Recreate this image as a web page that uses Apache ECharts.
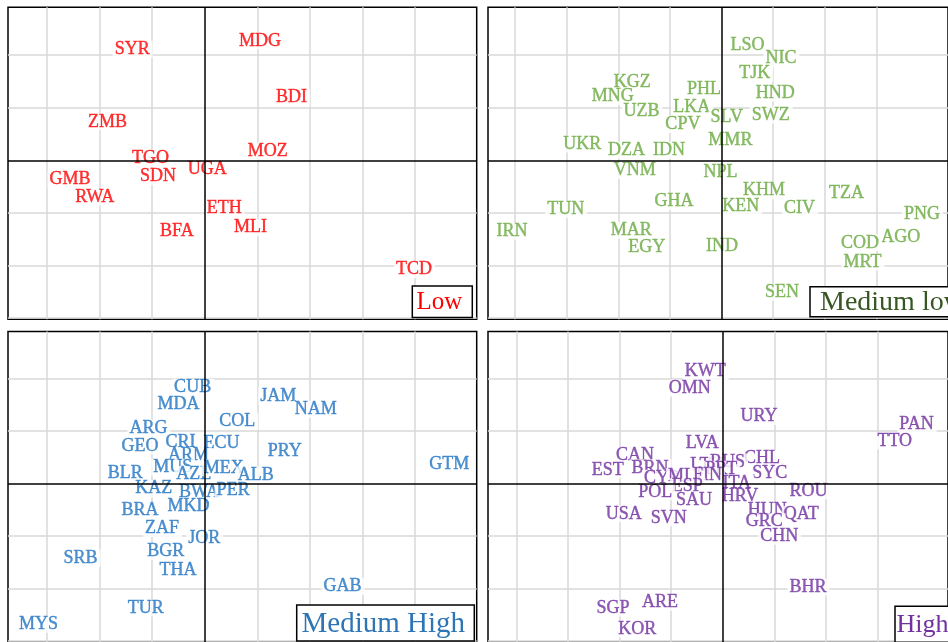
<!DOCTYPE html>
<html>
<head>
<meta charset="utf-8">
<script src="https://cdn.jsdelivr.net/npm/echarts@6/dist/echarts.min.js"></script>
<style>
  html, body { margin: 0; padding: 0; background: #fff; }
  #chart { width: 948px; height: 642px; }
</style>
</head>
<body>
<div id="chart"></div>
<script>
// ---- data (grid units; centre cross at 0,0) ----
const lowNames = ['SYR','MDG','BDI','ZMB','TGO','MOZ','UGA','GMB','SDN','RWA','ETH','BFA','MLI','TCD'];
const lowX = [-1.37, 1.06, 1.66, -1.84, -1.02, 1.21, 0.06, -2.55, -0.88, -2.08, 0.38, -0.52, 0.88, 3.99];
const lowY = [2.14, 2.30, 1.22, 0.76, 0.06, 0.20, -0.14, -0.34, -0.28, -0.68, -0.88, -1.33, -1.25, -2.05];

const medLowNames = ['LSO','NIC','TJK','KGZ','PHL','HND','MNG','UZB','LKA','SLV','SWZ','CPV','MMR','UKR','DZA','IDN','VNM','NPL','KHM','TZA','GHA','TUN','KEN','CIV','PNG','IRN','MAR','AGO','EGY','IND','COD','MRT','SEN'];
const medLowX = [0.51, 1.16, 0.65, -1.72, -0.33, 1.05, -2.10, -1.54, -0.57, 0.11, 0.96, -0.74, 0.18, -2.69, -1.83, -1.01, -1.67, -0.01, 0.83, 2.43, -0.91, -3.01, 0.38, 1.52, 3.89, -4.05, -1.74, 3.48, -1.44, 0.02, 2.69, 2.74, 1.18];
const medLowY = [2.22, 1.96, 1.68, 1.51, 1.38, 1.31, 1.24, 0.97, 1.03, 0.84, 0.89, 0.71, 0.40, 0.34, 0.22, 0.22, -0.17, -0.19, -0.55, -0.60, -0.75, -0.91, -0.84, -0.88, -1.00, -1.32, -1.30, -1.43, -1.63, -1.60, -1.54, -1.91, -2.48];

const medHighNames = ['CUB','MDA','JAM','NAM','COL','ARG','CRI','ECU','GEO','PRY','ARM','GTM','MUS','BLR','AZE','MEX','ALB','KAZ','BWA','PER','BRA','MKD','ZAF','JOR','SRB','BGR','THA','GAB','TUR','MYS'];
const medHighX = [-0.22, -0.49, 1.41, 2.12, 0.63, -1.06, -0.45, 0.33, -1.22, 1.53, -0.30, 4.66, -0.60, -1.50, -0.20, 0.37, 0.98, -0.96, -0.10, 0.55, -1.22, -0.30, -0.80, 0.00, -2.35, -0.73, -0.50, 2.63, -1.11, -3.15];
const medHighY = [1.87, 1.55, 1.69, 1.45, 1.22, 1.08, 0.82, 0.80, 0.74, 0.65, 0.56, 0.39, 0.34, 0.22, 0.20, 0.33, 0.19, -0.07, -0.13, -0.09, -0.49, -0.40, -0.83, -1.01, -1.40, -1.27, -1.63, -1.94, -2.35, -2.66];

const highNames = ['KWT','OMN','URY','PAN','TTO','LVA','CAN','CHL','LTU','RUS','EST','BRN','PRT','SYC','CYP','MLT','FIN','ITA','ESP','ROU','POL','SAU','HRV','HUN','QAT','USA','SVN','GRC','CHN','BHR','ARE','SGP','KOR'];
const highX = [-0.33, -0.63, 0.71, 3.76, 3.34, -0.39, -1.69, 0.77, -0.30, 0.10, -2.22, -1.40, -0.02, 0.92, -1.18, -0.70, -0.29, 0.28, -0.68, 1.67, -1.30, -0.55, 0.34, 0.87, 1.53, -1.91, -1.04, 0.81, 1.10, 1.66, -1.21, -2.12, -1.65];
const highY = [2.17, 1.85, 1.31, 1.17, 0.84, 0.79, 0.57, 0.51, 0.37, 0.44, 0.29, 0.33, 0.30, 0.23, 0.13, 0.16, 0.18, 0.03, -0.03, -0.11, -0.13, -0.29, -0.22, -0.48, -0.56, -0.55, -0.63, -0.70, -0.98, -1.95, -2.24, -2.35, -2.75];

const leftXTicks = [-3, -2, -1, 1, 2, 3, 4];
const rightXTicks = [-4, -3, -2, -1, 1, 2, 3];
const yTicks = [-3, -2, -1, 1, 2];

// ---- layout / styles ----
const FONT = "'Liberation Serif', 'Times New Roman', serif";
const UNIT = 52.6;
const PW = 468.7, PH = 312;
const panels = [
  { name: 'Low', names: lowNames, xs: lowX, ys: lowY, color: '#FF0000', left: 8, top: 7.3, zx: 204.7, zy: 160.3, ticks: leftXTicks },
  { name: 'Medium low', names: medLowNames, xs: medLowX, ys: medLowY, color: '#6AAA40', left: 488, top: 7.3, zx: 726, zy: 160.3, ticks: rightXTicks },
  { name: 'Medium High', names: medHighNames, xs: medHighX, ys: medHighY, color: '#2174C4', left: 8, top: 331.5, zx: 204.7, zy: 484.3, ticks: leftXTicks },
  { name: 'High', names: highNames, xs: highX, ys: highY, color: '#7030A0', left: 488, top: 331.5, zx: 727.3, zy: 484.3, ticks: rightXTicks }
];

const grids = [], xAxes = [], yAxes = [], series = [];
panels.forEach((p, i) => {
  grids.push({ left: p.left, top: p.top, width: PW, height: PH, show: true,
    borderColor: '#000', borderWidth: 1.5, backgroundColor: '#fff' });
  const xmin = -(p.zx - p.left) / UNIT;
  const ymax = (p.zy - p.top) / UNIT;
  xAxes.push({ gridIndex: i, type: 'value', min: xmin, max: xmin + PW / UNIT,
    axisLine: { show: false }, axisTick: { show: false }, axisLabel: { show: false }, splitLine: { show: false } });
  yAxes.push({ gridIndex: i, type: 'value', min: ymax - PH / UNIT, max: ymax,
    axisLine: { show: false }, axisTick: { show: false }, axisLabel: { show: false }, splitLine: { show: false } });

  const gray = { color: '#D9D9D9', width: 1.5, type: 'solid' };
  const black = { color: '#000', width: 1.5, type: 'solid' };
  const grayLines = [];
  p.ticks.forEach(v => grayLines.push({ xAxis: v, lineStyle: gray }));
  yTicks.forEach(v => grayLines.push({ yAxis: v, lineStyle: gray }));
  // light grid lines (below labels)
  series.push({ type: 'line', xAxisIndex: i, yAxisIndex: i, data: [], z: 1, silent: true,
    markLine: { z: 1, silent: true, symbol: ['none', 'none'], label: { show: false }, data: grayLines, animation: false } });

  // country labels
  series.push({
    name: p.name, type: 'scatter', xAxisIndex: i, yAxisIndex: i, z: 2,
    symbolSize: 0, silent: true,
    data: p.names.map((n, k) => ({ name: n, value: [p.xs[k], p.ys[k]] })),
    label: { show: true, position: 'inside', formatter: '{b}', color: p.color,
      fontFamily: FONT, fontSize: 18, lineHeight: 17, offset: [0, 1.5],
      textBorderColor: p.color, textBorderWidth: 0.4,
      backgroundColor: '#fff', padding: [0, 3, 0, 2] }
  });

  // black centre cross (above labels)
  series.push({ type: 'line', xAxisIndex: i, yAxisIndex: i, data: [], z: 4, silent: true,
    markLine: { z: 4, silent: true, symbol: ['none', 'none'], label: { show: false },
      data: [{ xAxis: 0, lineStyle: black }, { yAxis: 0, lineStyle: black }], animation: false } });
});

const legendBoxes = [
  { text: 'Low', color: '#FF0000', x: 412.3, y: 286, w: 60, h: 31.5, tx: 416.5, size: 25 },
  { text: 'Medium low', color: '#375623', x: 810, y: 286.7, w: 200, h: 30, tx: 820, size: 28 },
  { text: 'Medium High', color: '#2E75B6', x: 296.7, y: 605, w: 177.6, h: 36, tx: 301.5, size: 29 },
  { text: 'High', color: '#7030A0', x: 895, y: 606.3, w: 120, h: 36, tx: 896.5, size: 26 }
];
const graphic = [];
legendBoxes.forEach(b => {
  graphic.push({ type: 'rect', z: 100, shape: { x: b.x, y: b.y, width: b.w, height: b.h },
    style: { fill: '#fff', stroke: '#000', lineWidth: 1.5 } });
  graphic.push({ type: 'text', z: 101, x: b.tx, y: b.y + b.h / 2 + 1,
    style: { text: b.text, fill: b.color, font: b.size + 'px ' + FONT, verticalAlign: 'middle', align: 'left' } });
});

const chart = echarts.init(document.getElementById('chart'), null, { renderer: 'canvas' });
chart.setOption({
  backgroundColor: '#fff',
  animation: false,
  grid: grids, xAxis: xAxes, yAxis: yAxes, series: series, graphic: graphic
});
</script>
</body>
</html>
